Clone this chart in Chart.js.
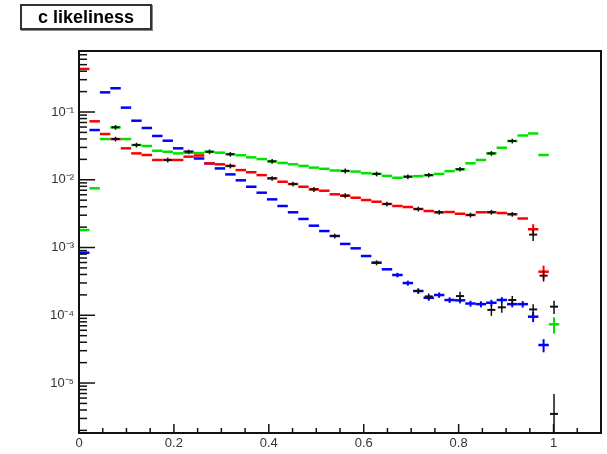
<!DOCTYPE html>
<html>
<head>
<meta charset="utf-8">
<script src="https://cdn.jsdelivr.net/npm/chart.js@4.4.0/dist/chart.umd.min.js"></script>
<style>
body { margin: 0; background: #fff; }
#wrap { position: relative; width: 607px; height: 454px; }
#title {
    position: absolute; left: 20px; top: 4px; width: 128px; height: 22px;
    border: 2px solid #333; box-shadow: 1px 1px 0 #888; background: #fff;
    font: bold 18px "Liberation Sans", Arial, sans-serif; line-height: 22px; text-align: center;
}
</style>
</head>
<body>
<div id="wrap">
    <canvas id="c" width="607" height="454"></canvas>
    <div id="title">c likeliness</div>
</div>
<script>
// histogram binning
const nBins = 50, xLow = 0, xHigh = 1.1;
const binWidth = (xHigh - xLow) / nBins;

// bin contents, bins 0..45
const redVals = [0.432, 0.0729, 0.0473, 0.0399, 0.0291, 0.0245, 0.0232, 0.0196, 0.0196, 0.0196,
    0.0219, 0.0228, 0.0175, 0.0169, 0.0160, 0.0139, 0.0129, 0.0117, 0.0105, 0.00935,
    0.00865, 0.00789, 0.00722, 0.00689, 0.00610, 0.00582, 0.00543, 0.00502, 0.00474, 0.00439,
    0.00410, 0.00396, 0.00370, 0.00346, 0.00331, 0.00334, 0.00315, 0.00302, 0.00331, 0.00332,
    0.00323, 0.00310, 0.00268, 0.00186, 0.000440, null];
const greenVals = [0.00181, 0.00748, 0.0399, 0.0594, 0.0399, 0.0326, 0.0315, 0.0268, 0.0259, 0.0245,
    0.0251, 0.0248, 0.0259, 0.0251, 0.0238, 0.0230, 0.0214, 0.0202, 0.0187, 0.0177,
    0.0169, 0.0160, 0.0151, 0.0145, 0.0137, 0.0135, 0.0132, 0.0125, 0.0122, 0.0114,
    0.0107, 0.0111, 0.0113, 0.0117, 0.0122, 0.0134, 0.0143, 0.0175, 0.0196, 0.0245,
    0.0297, 0.0373, 0.0450, 0.0482, 0.0232, 0.0000735];
const blueVals = [0.000838, 0.0542, 0.195, 0.224, 0.116, 0.0744, 0.0581, 0.0443, 0.0377, 0.0291,
    0.0259, 0.0206, 0.0174, 0.0147, 0.0120, 0.00981, 0.00789, 0.00644, 0.00514, 0.00410,
    0.00331, 0.00264, 0.00210, 0.00175, 0.00148, 0.00113, 0.000973, 0.000749, 0.000597, 0.000477,
    0.000393, 0.000299, 0.000228, 0.000181, 0.000199, 0.000168, 0.000166, 0.000149, 0.000146, 0.000153,
    0.000168, 0.000146, 0.000146, 0.0000953, 0.0000364, null];

// [bin, error] where the error bar is visible
const redErrs = [[43, 0.00035], [44, 0.0001]];
const greenErrs = [[45, 0.00002]];
const blueErrs = [[30, 0.00003], [31, 0.000025], [32, 0.00002], [33, 0.000017], [34, 0.000018],
    [35, 0.000016], [36, 0.000016], [37, 0.000015], [38, 0.000015], [39, 0.000016],
    [40, 0.000017], [41, 0.000015], [42, 0.000016], [43, 0.000016], [44, 0.000008]];

// black overlay points
const blackBins = [3, 8, 14, 18, 20, 22, 25, 29, 32, 34, 37, 39, 41, 43, 44,
    3, 5, 12, 14, 18, 25, 28, 31, 33, 36, 39, 41, 45,
    10, 24, 28, 32, 33, 36, 39, 40, 41, 43, 45];
const blackVals = [0.0399, 0.0196, 0.0160, 0.0105, 0.00865, 0.00722, 0.00582, 0.00439, 0.00370, 0.00331, 0.00302, 0.00332, 0.00310, 0.00155, 0.000384,
    0.0594, 0.0326, 0.0259, 0.0238, 0.0187, 0.0135, 0.0122, 0.0111, 0.0117, 0.0143, 0.0245, 0.0373, 0.000134,
    0.0259, 0.00148, 0.000597, 0.000228, 0.000190, 0.000192, 0.000120, 0.000131, 0.000168, 0.000122, 0.0000035];
const blackErrs = [0.0032, 0.0016, 0.0013, 0.0008, 0.0007, 0.0006, 0.0005, 0.00035, 0.0003, 0.00027, 0.00025, 0.00027, 0.00025, 0.0003, 0.00007,
    0.0048, 0.0026, 0.0021, 0.0019, 0.0015, 0.0011, 0.001, 0.0009, 0.0009, 0.0011, 0.002, 0.003, 0.00003,
    0.002, 0.00012, 0.00005, 0.00002, 0.00002, 0.00003, 0.000022, 0.000022, 0.000025, 0.000023, 0.0000034];

const xTicks = [0, 0.2, 0.4, 0.6, 0.8, 1.0];
const yTicks = [1e-5, 1e-4, 1e-3, 1e-2, 1e-1];

function binCenter(i) {
    return xLow + (i + 0.5) * binWidth;
}

function histPoints(vals) {
    return vals.map((v, i) => ({ x: binCenter(i), y: v })).filter(p => p.y !== null);
}

function errList(vals, errs) {
    return errs.map(([b, s]) => [binCenter(b), vals[b], s]);
}

function halfBin(ctx) {
    const s = ctx.chart.scales.x;
    return (s.getPixelForValue(binWidth) - s.getPixelForValue(0)) / 2;
}

function histDataset(vals, errs, color) {
    return {
        data: histPoints(vals),
        errors: errList(vals, errs),
        borderColor: color,
        pointStyle: 'line',
        pointRadius: halfBin,
        pointHoverRadius: halfBin,
        pointBorderWidth: 2.5,
        pointBorderColor: color,
        pointBackgroundColor: color
    };
}

const blackPoints = blackBins.map((b, i) => ({ x: binCenter(b), y: blackVals[i] }));

const datasets = [
    {
        data: blackPoints,
        errors: blackBins.map((b, i) => [binCenter(b), blackVals[i], blackErrs[i]]),
        borderColor: '#111',
        pointStyle: 'line',
        pointRadius: 4,
        pointBorderWidth: 2,
        pointBorderColor: '#111',
        errorWidth: 1.5
    },
    histDataset(redVals, redErrs, 'rgb(255,0,0)'),
    histDataset(greenVals, greenErrs, 'rgb(0,225,0)'),
    histDataset(blueVals, blueErrs, 'rgb(0,0,255)')
];

const errorBars = {
    id: 'errorBars',
    afterDatasetsDraw(chart) {
        const ctx = chart.ctx, xs = chart.scales.x, ys = chart.scales.y, a = chart.chartArea;
        ctx.save();
        ctx.beginPath();
        ctx.rect(a.left, a.top, a.right - a.left, a.bottom - a.top);
        ctx.clip();
        chart.data.datasets.slice().reverse().forEach(ds => {
            ctx.strokeStyle = ds.borderColor;
            ctx.lineWidth = ds.errorWidth || 2;
            (ds.errors || []).forEach(([x, v, s]) => {
                const px = xs.getPixelForValue(x);
                const top = ys.getPixelForValue(v + s);
                const bot = v - s > 0 ? ys.getPixelForValue(v - s) : a.bottom;
                ctx.beginPath();
                ctx.moveTo(px, top);
                ctx.lineTo(px, Math.min(bot, a.bottom));
                ctx.stroke();
            });
        });
        ctx.restore();
    }
};

const frame = {
    id: 'frame',
    afterDraw(chart) {
        const ctx = chart.ctx, a = chart.chartArea, xs = chart.scales.x, ys = chart.scales.y;
        ctx.save();
        ctx.strokeStyle = '#111';
        ctx.lineWidth = 1.5;
        for (let d = -6; d <= 0; d++) {
            for (let k = 1; k <= 9; k++) {
                const v = k * Math.pow(10, d);
                if (v < ys.min || v > ys.max) continue;
                const py = ys.getPixelForValue(v);
                ctx.beginPath();
                ctx.moveTo(a.left, py);
                ctx.lineTo(a.left + (k === 1 ? 16 : 8), py);
                ctx.stroke();
            }
        }
        for (let i = 0; i * 0.05 <= xHigh + 1e-9; i++) {
            const px = xs.getPixelForValue(i * 0.05);
            ctx.beginPath();
            ctx.moveTo(px, a.bottom);
            ctx.lineTo(px, a.bottom - (i % 4 === 0 ? 9 : 5));
            ctx.stroke();
        }
        ctx.lineWidth = 2;
        ctx.strokeRect(a.left, a.top, a.right - a.left, a.bottom - a.top);
        ctx.restore();
    }
};

const supDigits = '⁰¹²³⁴⁵⁶⁷⁸⁹';
function sup(n) {
    return (n < 0 ? '⁻' : '') + String(Math.abs(n)).split('').map(c => supDigits[+c]).join('');
}

const tickFont = { family: '"Liberation Sans", Arial, sans-serif', size: 13 };

new Chart(document.getElementById('c'), {
    type: 'scatter',
    data: { datasets },
    options: {
        responsive: false,
        animation: false,
        events: [],
        layout: { padding: { top: 51, right: 4, left: 0, bottom: 0 } },
        plugins: { legend: { display: false }, tooltip: { enabled: false } },
        scales: {
            x: {
                type: 'linear', min: xLow, max: xHigh,
                grid: { display: false, drawTicks: false },
                border: { display: false },
                afterBuildTicks: s => { s.ticks = xTicks.map(v => ({ value: v })); },
                afterFit: s => { s.height = 21; },
                ticks: { padding: 3, color: '#333', font: tickFont, autoSkip: false, maxRotation: 0,
                    callback: v => String(Math.round(v * 10) / 10) }
            },
            y: {
                type: 'logarithmic', min: 1.83e-6, max: 0.795,
                grid: { display: false, drawTicks: false },
                border: { display: false },
                afterBuildTicks: s => { s.ticks = yTicks.map(v => ({ value: v })); },
                afterFit: s => { s.width = 79; },
                ticks: { padding: 5, color: '#333', font: tickFont, autoSkip: false,
                    callback: v => '10' + sup(Math.round(Math.log10(v))) }
            }
        }
    },
    plugins: [errorBars, frame]
});
</script>
</body>
</html>
